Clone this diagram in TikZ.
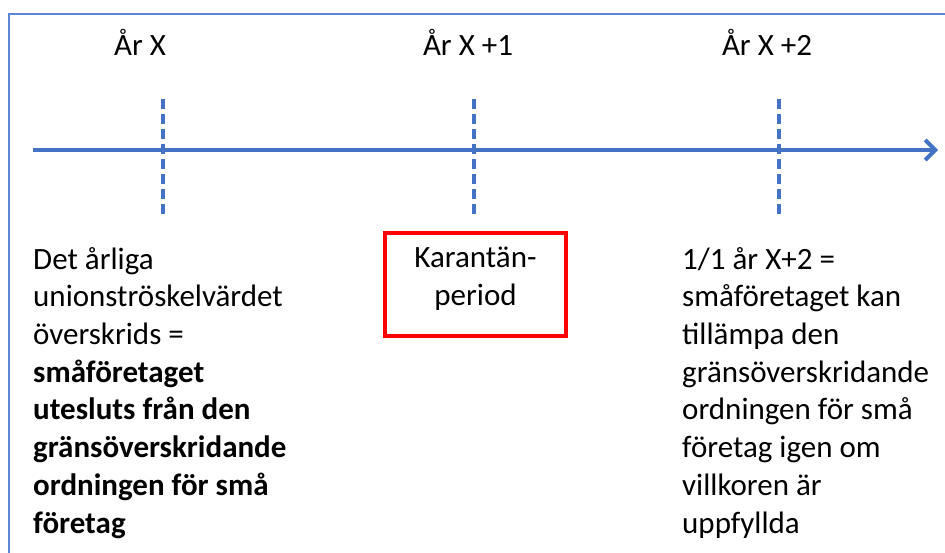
\documentclass[tikz,border=0pt]{standalone}
\usepackage{fontspec}
\setmainfont{Carlito}
\usetikzlibrary{arrows.meta}
\definecolor{axisblue}{HTML}{4472C4}
\definecolor{frameblue}{HTML}{5B86D0}
\definecolor{boxred}{HTML}{FF0000}
\tikzset{
  txt/.style={font=\fontsize{31}{37.7}\selectfont, inner sep=0pt, align=left, anchor=north west},
  yearlabel/.style={font=\fontsize{31}{35}\selectfont, inner sep=0pt, anchor=base},
  tick/.style={draw=axisblue, line width=3.5pt, dash pattern=on 10pt off 5pt},
  axis/.style={draw=axisblue, line width=4pt, -{Straight Barb[length=10pt,width=20pt,line width=4pt]}},
  quarantine/.style={draw=boxred, line width=3.5pt, minimum width=181pt, minimum height=103pt,
    inner sep=0pt},
  boxtext/.style={inner sep=0pt, align=center, font=\fontsize{31}{38}\selectfont}
}
\begin{document}
\begin{tikzpicture}[x=1pt,y=-1pt]
\useasboundingbox (0,0) rectangle (945,552);
% outer frame (only top and left edges fall inside the page)
\draw[frameblue, line width=2pt] (9,560) -- (9,14) -- (950,14);

% time axis
\coordinate (start) at (33,150);
\coordinate (end) at (938,150);
\draw[axis] (start) -- (end);

% year ticks
\coordinate (t0a) at (163,99);  \coordinate (t0b) at (163,218);
\coordinate (t1a) at (474,99);  \coordinate (t1b) at (474,218);
\coordinate (t2a) at (779,99);  \coordinate (t2b) at (779,218);
\draw[tick] (t0a) -- (t0b);
\draw[tick] (t1a) -- (t1b);
\draw[tick] (t2a) -- (t2b);

% year labels
\node[yearlabel] (y0) at (140,55) {År X};
\node[yearlabel] (y1) at (468,55) {År X +1};
\node[yearlabel] (y2) at (767,55) {År X +2};

% explanations under the axis
\node[txt] (left) at (33,247) {Det årliga\\unionströskelvärdet\\överskrids =\\
  \textbf{småföretaget}\\\textbf{utesluts från den}\\\textbf{gränsöverskridande}\\
  \textbf{ordningen för små}\\\textbf{företag}};

% quarantine period box
\node[quarantine] (box) at (475.5,284.5) {};
\node[boxtext] (boxlabel) at (475.5,279) {Karantän-\\period};

\node[txt] (right) at (682,247) {1/1 år X+2 =\\småföretaget kan\\tillämpa den\\
  gränsöverskridande\\ordningen för små\\företag igen om\\villkoren är\\uppfyllda};
\end{tikzpicture}
\end{document}
